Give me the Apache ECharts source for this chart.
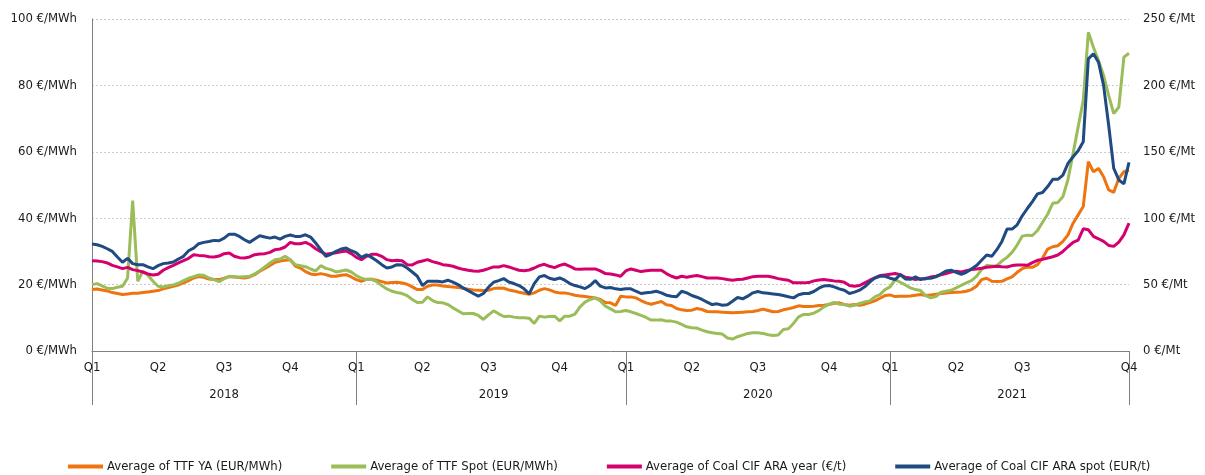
<!DOCTYPE html>
<html>
<head>
<meta charset="UTF-8">
<title>TTF and coal prices</title>
<script src="https://cdn.jsdelivr.net/npm/echarts@6/dist/echarts.min.js"></script>
<style>
  html, body { margin: 0; padding: 0; background: #fff; }
  #main { width: 1205px; height: 475px; }
</style>
</head>
<body>
<div id="main"></div>
<script>
// quarters and how many weekly points fall in each
var quarterNames = ['Q1 2018', 'Q2 2018', 'Q3 2018', 'Q4 2018',
    'Q1 2019', 'Q2 2019', 'Q3 2019', 'Q4 2019',
    'Q1 2020', 'Q2 2020', 'Q3 2020', 'Q4 2020',
    'Q1 2021', 'Q2 2021', 'Q3 2021', 'Q4 2021'];
var quarterWeeks = [13, 13, 13, 13, 13, 13, 14, 13, 13, 13, 14, 12, 13, 13, 21, 1];

var seriesNames = ['Average of TTF YA (EUR/MWh)', 'Average of TTF Spot (EUR/MWh)',
    'Average of Coal CIF ARA year (€/t)', 'Average of Coal CIF ARA spot (EUR/t)'];

// EUR/MWh
var ttfYA = [
    18.5, 18.7, 18.4, 18.1, 17.6, 17.3, 17.0, 17.2, 17.4, 17.4,
    17.6, 17.8, 18.0, 18.2, 18.7, 19.1, 19.5, 19.9, 20.5, 21.2,
    22.0, 22.4, 22.2, 21.7, 21.5, 21.5, 21.9, 22.4, 22.3, 22.1,
    22.0, 22.3, 23.0, 24.0, 24.9, 25.8, 26.7, 27.1, 27.3, 27.5,
    25.6, 25.0, 23.9, 23.2, 23.0, 23.3, 23.0, 22.5, 22.5, 22.8,
    23.0, 22.3, 21.5, 21.0, 21.6, 21.6, 21.3, 20.9, 20.5, 20.6,
    20.7, 20.5, 20.1, 19.3, 18.5, 18.5, 19.5, 19.9, 19.9, 19.6,
    19.4, 19.3, 19.1, 18.9, 18.6, 18.4, 18.3, 18.2, 18.3, 18.8,
    19.0, 18.9, 18.4, 18.1, 17.7, 17.4, 17.1, 17.5, 18.3, 18.8,
    18.4, 17.8, 17.5, 17.5, 17.2, 16.8, 16.6, 16.4, 16.2, 16.0,
    15.5, 14.6, 14.5, 13.7, 16.5, 16.3, 16.3, 16.0, 15.2, 14.5,
    14.1, 14.5, 14.9, 13.9, 13.7, 12.8, 12.4, 12.2, 12.3, 12.8,
    12.5, 11.9, 11.8, 11.8, 11.7, 11.6, 11.5, 11.6, 11.7, 11.8,
    11.9, 12.2, 12.6, 12.2, 11.8, 11.9, 12.4, 12.7, 13.1, 13.6,
    13.4, 13.4, 13.5, 13.7, 13.8, 14.0, 14.4, 14.5, 14.0, 13.8,
    14.0, 13.8, 14.1, 14.6, 15.1, 15.9, 16.7, 16.9, 16.4, 16.5,
    16.5, 16.6, 16.8, 17.0, 16.7, 16.9, 17.1, 17.3, 17.5, 17.6,
    17.7, 17.8, 18.0, 18.5, 19.5, 21.5, 21.9, 21.0, 20.9, 21.0,
    21.7, 22.3, 23.7, 24.8, 25.3, 25.2, 26.0, 28.0, 30.7, 31.4,
    31.7, 33.0, 35.0, 38.5, 41.0, 43.5, 57.0, 54.0, 55.0, 52.5,
    48.5, 47.8, 52.0, 54.0, 54.5
];

// EUR/MWh
var ttfSpot = [
    20.0, 20.3, 19.6, 18.9, 18.8, 19.2, 19.5, 22.0, 45.3, 21.0,
    24.0, 22.8, 21.0, 19.5, 19.3, 19.7, 19.9, 20.4, 21.2, 21.9,
    22.4, 22.9, 22.8, 22.0, 21.5, 20.9, 21.8, 22.5, 22.4, 22.3,
    22.4, 22.5, 23.2, 24.2, 25.3, 26.5, 27.5, 27.7, 28.5, 27.5,
    26.0, 25.7, 25.4, 24.7, 24.1, 25.7, 24.9, 24.5, 23.8, 24.1,
    24.4, 23.8, 22.7, 21.9, 21.5, 21.6, 20.9, 19.7, 18.7, 18.0,
    17.6, 17.3, 16.7, 15.5, 14.6, 14.7, 16.3, 15.2, 14.6, 14.5,
    14.0, 13.0, 12.1, 11.2, 11.3, 11.3, 10.7, 9.5, 10.9, 12.1,
    11.2, 10.4, 10.5, 10.2, 10.0, 10.0, 9.9, 8.3, 10.5, 10.2,
    10.4, 10.5, 9.1, 10.5, 10.5, 11.1, 13.3, 14.7, 15.5, 16.0,
    15.1, 13.5, 12.7, 11.8, 11.9, 12.2, 11.8, 11.3, 10.7, 10.1,
    9.3, 9.3, 9.4, 9.0, 9.0, 8.7, 8.0, 7.3, 7.0, 6.9,
    6.3, 5.8, 5.5, 5.3, 5.1, 3.9, 3.6, 4.3, 4.8, 5.3,
    5.5, 5.5, 5.3, 4.9, 4.7, 4.8, 6.5, 6.7, 8.3, 10.3,
    11.0, 11.0, 11.4, 12.2, 13.3, 14.1, 14.6, 14.1, 14.0, 13.5,
    13.8, 14.3, 14.8, 15.1, 16.3, 17.0, 18.5, 19.3, 21.5, 20.7,
    19.9, 19.0, 18.5, 18.2, 16.7, 16.0, 16.4, 17.7, 18.0, 18.3,
    19.0, 19.8, 20.5, 21.2, 22.5, 24.5, 25.8, 25.6, 25.7, 27.1,
    28.2, 29.7, 31.9, 34.6, 34.9, 34.8, 36.3, 38.8, 41.2, 44.5,
    44.7, 46.5, 51.7, 59.5, 67.5, 75.5, 96.0, 91.5, 87.5, 83.0,
    77.0, 71.5, 73.5, 88.5, 89.7
];

// EUR/t
var coalYear = [
    68.0, 67.8, 67.3, 66.3, 64.5, 63.3, 62.0, 63.0, 61.3, 60.5,
    59.5, 58.0, 57.3, 57.8, 60.8, 62.8, 64.5, 66.3, 68.0, 69.8,
    72.5, 72.0, 71.8, 71.0, 70.8, 71.5, 73.3, 73.8, 71.3, 70.3,
    70.0, 70.8, 72.5, 73.0, 73.3, 74.3, 76.3, 76.8, 78.3, 81.8,
    80.8, 80.8, 81.8, 80.0, 77.0, 74.8, 72.8, 73.5, 74.0, 74.8,
    75.3, 73.3, 70.5, 68.8, 71.3, 72.8, 72.8, 71.3, 68.8, 68.0,
    68.3, 68.0, 65.0, 64.8, 66.8, 67.8, 68.8, 67.3, 66.3, 65.0,
    64.5, 63.8, 62.5, 61.5, 60.8, 60.3, 60.0, 60.8, 62.0, 63.3,
    63.3, 64.3, 63.3, 62.0, 60.8, 60.5, 61.0, 62.5, 64.3, 65.3,
    63.8, 62.8, 64.5, 65.5, 63.8, 61.8, 61.5, 61.8, 61.8, 61.8,
    60.3, 58.3, 58.0, 57.3, 56.3, 60.3, 61.8, 60.8, 59.8, 60.5,
    60.8, 60.8, 60.8, 58.3, 56.3, 55.0, 56.3, 55.5, 56.3, 56.8,
    56.0, 55.0, 55.0, 55.0, 54.5, 53.8, 53.3, 53.8, 54.0, 55.0,
    56.0, 56.3, 56.3, 56.3, 55.5, 54.5, 53.8, 53.3, 51.3, 51.3,
    51.3, 51.5, 52.8, 53.5, 53.8, 53.3, 52.8, 52.5, 51.8, 49.3,
    48.8, 49.3, 51.3, 53.3, 55.0, 56.8, 57.3, 57.8, 58.3, 57.5,
    55.5, 55.0, 53.8, 54.5, 54.3, 55.8, 56.3, 57.3, 58.3, 59.5,
    60.0, 59.5, 60.5, 61.3, 61.8, 62.3, 63.0, 63.5, 63.8, 63.5,
    63.3, 64.3, 64.8, 64.8, 64.5, 66.5, 68.3, 69.0, 70.0, 71.0,
    72.3, 75.0, 78.5, 81.8, 83.5, 92.0, 91.3, 86.3, 84.5, 82.5,
    79.5, 78.8, 82.0, 87.5, 96.3
];

// EUR/t
var coalSpot = [
    80.5, 80.0, 78.8, 77.0, 75.0, 70.8, 66.8, 69.8, 65.8, 65.0,
    65.0, 63.3, 62.0, 64.3, 65.8, 66.3, 67.0, 69.3, 71.3, 75.5,
    77.5, 80.8, 81.8, 82.5, 83.3, 83.0, 85.0, 88.0, 88.0, 86.3,
    83.8, 81.8, 84.3, 86.8, 85.8, 85.0, 85.8, 84.3, 86.3, 87.3,
    86.3, 86.3, 87.5, 85.8, 81.3, 76.3, 71.3, 72.8, 75.0, 76.8,
    77.5, 75.5, 73.8, 70.5, 72.5, 70.5, 68.0, 65.0, 62.5, 63.3,
    65.0, 64.8, 62.5, 59.5, 56.3, 49.3, 52.5, 52.5, 52.5, 52.0,
    53.3, 51.8, 50.0, 47.5, 45.5, 43.3, 41.3, 43.3, 48.0, 51.8,
    53.0, 54.5, 52.0, 50.8, 49.3, 46.8, 43.0, 50.8, 55.8, 56.8,
    54.8, 53.8, 55.0, 53.3, 50.8, 49.3, 48.3, 47.0, 49.3, 53.0,
    48.8, 47.5, 47.8, 46.8, 46.3, 46.8, 46.8, 45.0, 43.3, 43.8,
    44.3, 45.0, 43.8, 42.0, 41.3, 40.8, 45.0, 43.8, 41.8, 40.5,
    38.8, 36.8, 35.0, 35.5, 34.5, 34.8, 37.5, 40.3, 39.3, 41.3,
    43.8, 44.8, 43.8, 43.5, 43.0, 42.5, 41.8, 40.8, 40.0, 42.3,
    43.3, 43.3, 44.8, 47.3, 49.0, 49.3, 48.3, 46.8, 45.8, 43.3,
    44.3, 45.8, 48.3, 51.8, 55.0, 56.3, 56.3, 54.8, 53.8, 57.5,
    54.3, 54.0, 55.8, 53.8, 54.8, 54.8, 55.8, 58.0, 60.3, 60.8,
    59.3, 57.8, 59.3, 61.8, 64.3, 68.3, 72.3, 71.3, 76.3, 82.5,
    91.8, 91.8, 95.0, 101.8, 107.3, 112.5, 118.3, 119.3, 123.8, 129.3,
    129.3, 132.5, 141.3, 146.3, 150.8, 157.5, 220.0, 223.8, 217.5, 200.0,
    170.0, 137.5, 128.8, 125.8, 142.0
];

var colors = ['#ee7410', '#9bbd59', '#d4006e', '#1f4a82'];

var categories = [];
quarterNames.forEach(function (q, k) {
    for (var j = 0; j < quarterWeeks[k]; j++) categories.push(q);
});

function yearOf(i) { return categories[i].split(' ')[1]; }

// first index of each year, and the middle of each year span for its label
var yearStart = {}, lastIdx = categories.length - 1;
categories.forEach(function (c, i) {
    var y = yearOf(i);
    if (yearStart[y] === undefined) yearStart[y] = i;
});
var yearMid = {};
Object.keys(yearStart).forEach(function (y) {
    var nxt = yearStart[(+y + 1) + ''];
    var end = nxt !== undefined ? nxt : lastIdx;
    yearMid[Math.round((yearStart[y] + end) / 2)] = y;
});

var FONT = "'Liberation Sans Narrow', 'DejaVu Sans Condensed', 'Liberation Sans', sans-serif";
var TXT = '#1a1a1a';
var AXIS = '#808080';

var myChart = echarts.init(document.getElementById('main'));
var option = {
    animation: false,
    color: colors,
    textStyle: { fontFamily: FONT },
    grid: { left: 92, right: 76, top: 19, bottom: 124 },
    legend: {
        top: 455,
        left: 63,
        icon: 'rect',
        itemWidth: 35,
        itemHeight: 4,
        itemGap: 49,
        textStyle: { fontFamily: FONT, fontSize: 13, color: TXT, padding: [0, 0, 0, -1] },
        data: seriesNames
    },
    xAxis: [{
        type: 'category',
        data: categories,
        boundaryGap: false,
        axisLine: { lineStyle: { color: AXIS, width: 1 } },
        axisTick: { show: false },
        axisLabel: {
            margin: 10,
            fontFamily: FONT,
            fontSize: 13,
            color: TXT,
            interval: function (i) { return i === 0 || categories[i] !== categories[i - 1]; },
            formatter: function (v) { return v.split(' ')[0]; }
        },
        splitLine: { show: false }
    }, {
        type: 'category',
        data: categories,
        boundaryGap: false,
        position: 'bottom',
        axisLine: { show: false },
        axisTick: {
            show: true,
            length: 54,
            lineStyle: { color: AXIS, width: 1 },
            interval: function (i) {
                return i === lastIdx || i === 0 || yearOf(i) !== yearOf(i - 1);
            }
        },
        axisLabel: {
            margin: 37,
            fontFamily: FONT,
            fontSize: 13,
            color: TXT,
            interval: function (i) { return yearMid[i] !== undefined; },
            formatter: function (v) { return v.split(' ')[1]; }
        },
        splitLine: { show: false }
    }],
    yAxis: [{
        type: 'value',
        min: 0,
        max: 100,
        interval: 20,
        axisLine: { show: true, lineStyle: { color: AXIS, width: 1 } },
        axisTick: { show: false },
        axisLabel: {
            margin: 15,
            fontFamily: FONT,
            fontSize: 13,
            color: TXT,
            formatter: '{value} €/MWh'
        },
        splitLine: { lineStyle: { color: '#cccccc', type: [2, 2], width: 1 } }
    }, {
        type: 'value',
        min: 0,
        max: 250,
        interval: 50,
        axisLine: { show: false },
        axisTick: { show: false },
        axisLabel: {
            margin: 14,
            fontFamily: FONT,
            fontSize: 13,
            color: TXT,
            formatter: '{value} €/Mt'
        },
        splitLine: { show: false }
    }],
    series: [
        { name: seriesNames[0], type: 'line', data: ttfYA, yAxisIndex: 0 },
        { name: seriesNames[1], type: 'line', data: ttfSpot, yAxisIndex: 0 },
        { name: seriesNames[2], type: 'line', data: coalYear, yAxisIndex: 1 },
        { name: seriesNames[3], type: 'line', data: coalSpot, yAxisIndex: 1 }
    ].map(function (s) {
        s.showSymbol = false;
        s.symbol = 'none';
        s.lineStyle = { width: 3 };
        return s;
    })
};
myChart.setOption(option);
</script>
</body>
</html>
